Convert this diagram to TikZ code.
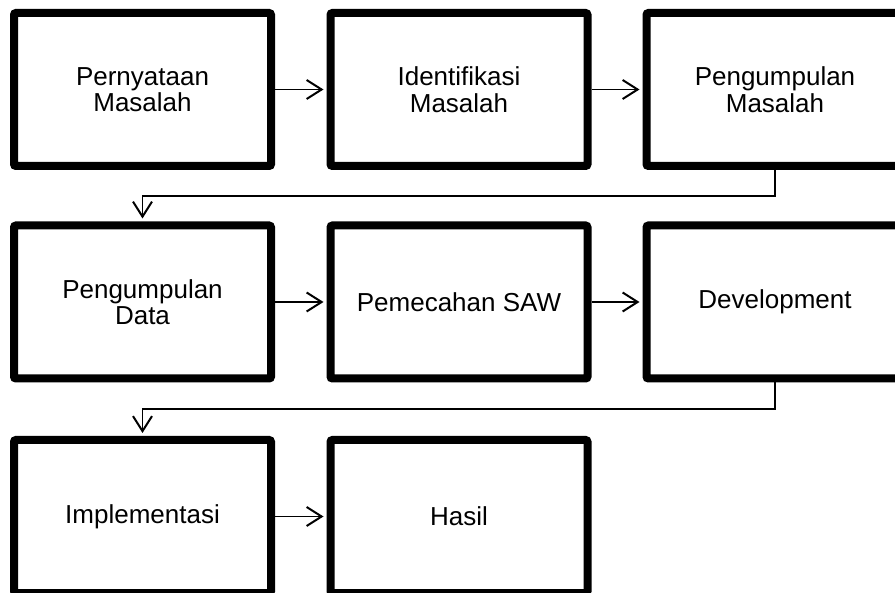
\documentclass[tikz,border=0pt]{standalone}
\usepackage{fontspec}
\setmainfont{Liberation Sans}
\usetikzlibrary{arrows.meta,calc}
\begin{document}
\begin{tikzpicture}[x=1pt,y=1pt,
  stepbox/.style={draw=black, line width=8pt, rounded corners=2pt, fill=white,
    minimum width=257pt, minimum height=153pt, inner sep=0pt,
    align=center, font=\fontsize{26}{26.5}\selectfont},
  arr/.style={line width=1.7pt, -{Straight Barb[length=15pt,width=19pt,line width=2pt]}, shorten >=3pt}]
\clip (0,0) rectangle (895,-593);
\fill[white] (0,0) rectangle (895,-593);
\node[stepbox] (a) at (142.5,-89.5) {Pernyataan\\Masalah};
\node[stepbox] (b) at (459,-89.5) {Identifikasi\\Masalah};
\node[stepbox] (c) at (775,-89.5) {Pengumpulan\\Masalah};
\node[stepbox] (d) at (142.5,-302) {Pengumpulan\\Data};
\node[stepbox] (e) at (459,-302) {Pemecahan SAW};
\node[stepbox] (f) at (775,-302) {Development};
\node[stepbox] (g) at (142.5,-516.5) {Implementasi};
\node[stepbox] (h) at (459,-516.5) {Hasil};
\draw[arr] (a) -- (b);
\draw[arr] (b) -- (c);
\draw[arr] (d) -- (e);
\draw[arr] (e) -- (f);
\draw[arr] (g) -- (h);
\coordinate (m1) at ($(c.south)!0.5!(d.north)$);
\draw[arr] (c.south) |- (m1) -| (d.north);
\coordinate (m2) at ($(f.south)!0.5!(g.north)$);
\draw[arr] (f.south) |- (m2) -| (g.north);
\end{tikzpicture}
\end{document}
